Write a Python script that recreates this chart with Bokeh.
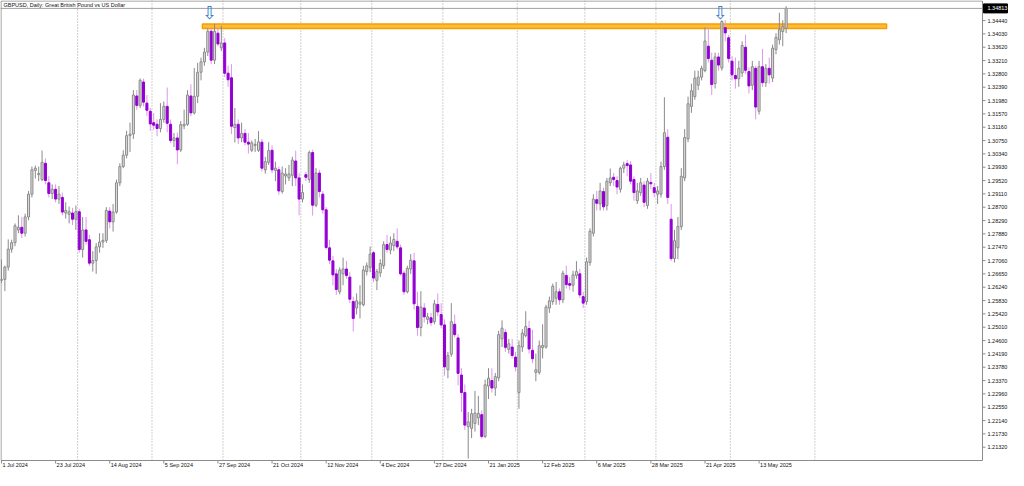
from bokeh.plotting import figure
from bokeh.embed import file_html
from bokeh.resources import INLINE
from bokeh.core.properties import value

# ---------------- data (GBPUSD daily, 1 Jul 2024 - 23 May 2025) ----------------
opens = [
    # Jul 2024
    1.2645, 1.2648, 1.2686, 1.2741, 1.2761, 1.2800, 1.2808, 1.2790, 1.2840, 1.2910, 1.2983, 1.2970,
    1.2955, 1.3005, 1.2945, 1.2912, 1.2925, 1.2895, 1.2900, 1.2852, 1.2848, 1.2852, 1.2833,
    # Aug
    1.2856, 1.2740, 1.2800, 1.2770, 1.2698, 1.2706, 1.2748, 1.2763, 1.2768, 1.2858, 1.2825, 1.2855,
    1.2945, 1.2995, 1.3030, 1.3090, 1.3095, 1.3212, 1.3183, 1.3255, 1.3190, 1.3165,
    # Sep
    1.3130, 1.3125, 1.3112, 1.3140, 1.3180, 1.3125, 1.3075, 1.3083, 1.3046, 1.3120, 1.3125, 1.3212,
    1.3160, 1.3211, 1.3285, 1.3317, 1.3347, 1.3411, 1.3322, 1.3405, 1.3360,
    # Oct
    1.3375, 1.3282, 1.3268, 1.3115, 1.3125, 1.3083, 1.3097, 1.3070, 1.3045, 1.3060, 1.3045, 1.3070,
    1.2985, 1.3008, 1.3045, 1.2983, 1.2985, 1.2918, 1.2966, 1.2960, 1.2968, 1.3012, 1.2960,
    # Nov
    1.2895, 1.2970, 1.2955, 1.3038, 1.2876, 1.2975, 1.2910, 1.2862, 1.2745, 1.2705, 1.2665, 1.2610,
    1.2665, 1.2680, 1.2655, 1.2580, 1.2560, 1.2572, 1.2570, 1.2672, 1.2685,
    # Dec
    1.2730, 1.2645, 1.2668, 1.2690, 1.2755, 1.2738, 1.2752, 1.2765, 1.2745, 1.2667, 1.2610, 1.2680,
    1.2705, 1.2565, 1.2500, 1.2560, 1.2525, 1.2530, 1.2518, 1.2571, 1.2540,
    # Jan 2025
    1.2508, 1.2370, 1.2418, 1.2510, 1.2468, 1.2354, 1.2300, 1.2195, 1.2190, 1.2205, 1.2222, 1.2232,
    1.2165, 1.2320, 1.2337, 1.2314, 1.2345, 1.2465, 1.2485, 1.2433, 1.2440, 1.2409,
    # Feb
    1.2300, 1.2440, 1.2475, 1.2497, 1.2430, 1.2362, 1.2362, 1.2438, 1.2440, 1.2560, 1.2580, 1.2590,
    1.2610, 1.2585, 1.2660, 1.2635, 1.2630, 1.2660, 1.2665, 1.2595,
    # Mar
    1.2580, 1.2700, 1.2790, 1.2893, 1.2880, 1.2918, 1.2875, 1.2945, 1.2962, 1.2952, 1.2925, 1.2990,
    1.3004, 1.3000, 1.2955, 1.2890, 1.2915, 1.2938, 1.2875, 1.2946, 1.2930,
    # Apr
    1.2910, 1.2910, 1.2995, 1.3085, 1.2833, 1.2712, 1.2745, 1.2810, 1.2960, 1.3080, 1.3180, 1.3210,
    1.3245, 1.3270, 1.3290, 1.3365, 1.3322, 1.3250, 1.3332, 1.3298, 1.3422, 1.3391,
    # May
    1.3319, 1.3275, 1.3265, 1.3283, 1.3362, 1.3287, 1.3245, 1.3297, 1.3165, 1.3302, 1.3253, 1.3297,
    1.3267, 1.3355, 1.3385, 1.3410, 1.3420,
]
highs = [
    1.2709, 1.2690, 1.2771, 1.2770, 1.2820, 1.2845, 1.2840, 1.2850, 1.2920, 1.2995, 1.2998, 1.2995,
    1.3044, 1.3020, 1.2965, 1.2940, 1.2940, 1.2935, 1.2915, 1.2885, 1.2872, 1.2868, 1.2875,
    1.2865, 1.2840, 1.2840, 1.2785, 1.2735, 1.2760, 1.2790, 1.2790, 1.2870, 1.2870, 1.2880, 1.2955,
    1.3005, 1.3045, 1.3105, 1.3130, 1.3230, 1.3230, 1.3266, 1.3265, 1.3215, 1.3175,
    1.3160, 1.3140, 1.3190, 1.3195, 1.3238, 1.3140, 1.3098, 1.3100, 1.3135, 1.3170, 1.3230, 1.3248,
    1.3298, 1.3314, 1.3330, 1.3360, 1.3420, 1.3418, 1.3434, 1.3420, 1.3428,
    1.3390, 1.3305, 1.3310, 1.3175, 1.3140, 1.3130, 1.3110, 1.3098, 1.3075, 1.3080, 1.3104, 1.3080,
    1.3025, 1.3070, 1.3060, 1.3010, 1.2995, 1.2995, 1.2990, 1.3000, 1.3025, 1.3044, 1.2975,
    1.2940, 1.2978, 1.3044, 1.3047, 1.2990, 1.2985, 1.2920, 1.2870, 1.2770, 1.2720, 1.2680, 1.2685,
    1.2715, 1.2705, 1.2670, 1.2595, 1.2605, 1.2630, 1.2690, 1.2700, 1.2749,
    1.2735, 1.2680, 1.2710, 1.2765, 1.2785, 1.2780, 1.2790, 1.2805, 1.2755, 1.2675, 1.2690, 1.2726,
    1.2730, 1.2610, 1.2612, 1.2575, 1.2545, 1.2545, 1.2585, 1.2605, 1.2575,
    1.2525, 1.2425, 1.2575, 1.2540, 1.2480, 1.2375, 1.2325, 1.2240, 1.2250, 1.2305, 1.2290, 1.2245,
    1.2340, 1.2375, 1.2375, 1.2360, 1.2490, 1.2522, 1.2495, 1.2465, 1.2465, 1.2425,
    1.2460, 1.2495, 1.2550, 1.2520, 1.2493, 1.2420, 1.2460, 1.2510, 1.2570, 1.2595, 1.2635, 1.2640,
    1.2620, 1.2675, 1.2690, 1.2655, 1.2675, 1.2704, 1.2680, 1.2610,
    1.2715, 1.2805, 1.2910, 1.2920, 1.2945, 1.2930, 1.2960, 1.2989, 1.2975, 1.2965, 1.2995, 1.3010,
    1.3015, 1.3012, 1.2965, 1.2945, 1.2960, 1.2950, 1.2960, 1.2975, 1.2945,
    1.2935, 1.3010, 1.3208, 1.3110, 1.2880, 1.2800, 1.2840, 1.2990, 1.3110, 1.3210, 1.3250, 1.3290,
    1.3290, 1.3305, 1.3423, 1.3423, 1.3345, 1.3345, 1.3345, 1.3445, 1.3445, 1.3400,
    1.3335, 1.3330, 1.3320, 1.3380, 1.3400, 1.3300, 1.3320, 1.3305, 1.3320, 1.3357, 1.3310, 1.3330,
    1.3370, 1.3405, 1.3468, 1.3445, 1.3488,
]
lows = [
    1.2637, 1.2612, 1.2675, 1.2730, 1.2750, 1.2790, 1.2775, 1.2780, 1.2830, 1.2900, 1.2958, 1.2950,
    1.2950, 1.2940, 1.2900, 1.2895, 1.2885, 1.2880, 1.2845, 1.2835, 1.2820, 1.2815, 1.2800,
    1.2730, 1.2715, 1.2755, 1.2690, 1.2672, 1.2665, 1.2730, 1.2745, 1.2760, 1.2805, 1.2795, 1.2850,
    1.2935, 1.2990, 1.3020, 1.3040, 1.3080, 1.3170, 1.3175, 1.3180, 1.3150, 1.3105,
    1.3108, 1.3088, 1.3100, 1.3130, 1.3100, 1.3068, 1.3055, 1.3002, 1.3040, 1.3110, 1.3120, 1.3150,
    1.3155, 1.3190, 1.3260, 1.3305, 1.3335, 1.3310, 1.3310, 1.3365, 1.3350,
    1.3270, 1.3240, 1.3095, 1.3069, 1.3064, 1.3070, 1.3060, 1.3035, 1.3040, 1.3040, 1.3040, 1.2980,
    1.2973, 1.3000, 1.2975, 1.2950, 1.2908, 1.2912, 1.2940, 1.2950, 1.2935, 1.2935, 1.2845,
    1.2885, 1.2950, 1.2945, 1.2844, 1.2870, 1.2900, 1.2850, 1.2740, 1.2695, 1.2630, 1.2600, 1.2602,
    1.2630, 1.2650, 1.2575, 1.2488, 1.2540, 1.2528, 1.2565, 1.2660, 1.2670,
    1.2640, 1.2615, 1.2655, 1.2680, 1.2730, 1.2725, 1.2735, 1.2740, 1.2660, 1.2600, 1.2605, 1.2665,
    1.2555, 1.2475, 1.2473, 1.2515, 1.2510, 1.2505, 1.2510, 1.2535, 1.2498,
    1.2352, 1.2344, 1.2410, 1.2470, 1.2322, 1.2240, 1.2185, 1.2097, 1.2160, 1.2180, 1.2200, 1.2158,
    1.2160, 1.2280, 1.2300, 1.2290, 1.2335, 1.2440, 1.2425, 1.2420, 1.2405, 1.2365,
    1.2250, 1.2425, 1.2470, 1.2420, 1.2390, 1.2335, 1.2355, 1.2405, 1.2435, 1.2545, 1.2570, 1.2570,
    1.2570, 1.2575, 1.2620, 1.2615, 1.2610, 1.2650, 1.2590, 1.2560,
    1.2570, 1.2690, 1.2780, 1.2860, 1.2860, 1.2860, 1.2860, 1.2935, 1.2935, 1.2910, 1.2915, 1.2975,
    1.2965, 1.2940, 1.2890, 1.2880, 1.2905, 1.2870, 1.2865, 1.2925, 1.2900,
    1.2880, 1.2900, 1.2985, 1.2880, 1.2705, 1.2700, 1.2710, 1.2800, 1.2950, 1.3070, 1.3160, 1.3200,
    1.3230, 1.3260, 1.3285, 1.3315, 1.3215, 1.3235, 1.3290, 1.3290, 1.3380, 1.3315,
    1.3260, 1.3235, 1.3240, 1.3270, 1.3280, 1.3220, 1.3230, 1.3140, 1.3155, 1.3240, 1.3240, 1.3250,
    1.3255, 1.3340, 1.3370, 1.3365, 1.3405,
]
closes = [
    1.2648, 1.2686, 1.2741, 1.2761, 1.2813, 1.2808, 1.2790, 1.2840, 1.2910, 1.2985, 1.2990, 1.2974,
    1.3008, 1.2952, 1.2912, 1.2925, 1.2895, 1.2910, 1.2855, 1.2860, 1.2856, 1.2833, 1.2856,
    1.2740, 1.2800, 1.2765, 1.2698, 1.2706, 1.2748, 1.2763, 1.2768, 1.2860, 1.2825, 1.2855, 1.2945,
    1.2995, 1.3030, 1.3090, 1.3095, 1.3215, 1.3183, 1.3260, 1.3193, 1.3168, 1.3126,
    1.3122, 1.3112, 1.3140, 1.3180, 1.3128, 1.3075, 1.3083, 1.3046, 1.3124, 1.3125, 1.3215, 1.3160,
    1.3211, 1.3285, 1.3317, 1.3347, 1.3411, 1.3322, 1.3411, 1.3372, 1.3375,
    1.3282, 1.3262, 1.3119, 1.3125, 1.3083, 1.3097, 1.3070, 1.3064, 1.3068, 1.3063, 1.3071, 1.2990,
    1.3010, 1.3044, 1.2985, 1.2990, 1.2920, 1.2975, 1.2972, 1.2972, 1.3015, 1.2960, 1.2895,
    1.2915, 1.2962, 1.3038, 1.2876, 1.2975, 1.2918, 1.2862, 1.2746, 1.2707, 1.2662, 1.2617, 1.2677,
    1.2680, 1.2660, 1.2587, 1.2528, 1.2582, 1.2578, 1.2677, 1.2690, 1.2726,
    1.2652, 1.2672, 1.2697, 1.2755, 1.2740, 1.2760, 1.2771, 1.2748, 1.2665, 1.2610, 1.2682, 1.2707,
    1.2573, 1.2500, 1.2563, 1.2533, 1.2533, 1.2515, 1.2573, 1.2548, 1.2508,
    1.2379, 1.2414, 1.2518, 1.2478, 1.2359, 1.2300, 1.2200, 1.2210, 1.2235, 1.2237, 1.2236, 1.2165,
    1.2324, 1.2344, 1.2314, 1.2349, 1.2478, 1.2498, 1.2439, 1.2450, 1.2414, 1.2379,
    1.2444, 1.2483, 1.2503, 1.2434, 1.2404, 1.2370, 1.2444, 1.2445, 1.2563, 1.2582, 1.2627, 1.2610,
    1.2585, 1.2667, 1.2632, 1.2630, 1.2662, 1.2672, 1.2600, 1.2575,
    1.2702, 1.2796, 1.2895, 1.2882, 1.2920, 1.2871, 1.2950, 1.2960, 1.2955, 1.2932, 1.2990, 1.3000,
    1.2998, 1.2950, 1.2915, 1.2920, 1.2945, 1.2885, 1.2950, 1.2942, 1.2915,
    1.2920, 1.2995, 1.3099, 1.2900, 1.2712, 1.2767, 1.2811, 1.2965, 1.3084, 1.3188, 1.3228, 1.3267,
    1.3270, 1.3297, 1.3381, 1.3327, 1.3247, 1.3332, 1.3307, 1.3441, 1.3406, 1.3327,
    1.3277, 1.3265, 1.3297, 1.3367, 1.3291, 1.3243, 1.3302, 1.3178, 1.3302, 1.3253, 1.3297, 1.3277,
    1.3359, 1.3392, 1.3416, 1.3425, 1.34813,
]

date_labels = ["1 Jul 2024", "23 Jul 2024", "14 Aug 2024", "5 Sep 2024", "27 Sep 2024",
               "21 Oct 2024", "12 Nov 2024", "4 Dec 2024", "27 Dec 2024", "21 Jan 2025",
               "12 Feb 2025", "6 Mar 2025", "28 Mar 2025", "21 Apr 2025", "13 May 2025"]
date_label_bars = [0, 16, 32, 48, 64, 80, 96, 112, 128, 144, 160, 176, 192, 208, 224]
month_grid_bars = [22.5, 44.5, 65.5, 88.5, 109.5, 130.5, 152.5, 172.5, 193.5, 215.5, 240.5]
price_ticks = [1.21320, 1.21730, 1.22140, 1.22550, 1.22960, 1.23370, 1.23780, 1.24190,
               1.24600, 1.25010, 1.25420, 1.25830, 1.26240, 1.26650, 1.27060, 1.27470,
               1.27880, 1.28290, 1.28700, 1.29110, 1.29520, 1.29930, 1.30340, 1.30750,
               1.31160, 1.31570, 1.31980, 1.32390, 1.32800, 1.33210, 1.33620, 1.34030,
               1.34440]
zone_bars = [59.4, 261.7]
zone_prices = [1.34193, 1.34333]
arrow_bars = [61.6, 212.6]
arrow_prices = [1.34672, 1.34702]
title_text = "GBPUSD, Daily:  Great British Pound vs US Dollar"

# ---------------- geometry of the chart window ----------------
W, H = 1008, 470                 # figure size (px)
CHART_W, CHART_H = 982, 460      # chart area inside the figure (px)
CX0, CX1 = -0.29, 290.06         # bars visible in the chart area
CY0, CY1 = 1.20911, 1.35056      # prices visible in the chart area
PPX = CHART_W / (CX1 - CX0)      # px per bar
PPY = CHART_H / (CY1 - CY0)      # px per price unit
FONT = "Liberation Sans"
FS = "5.5px"
TXT = "#111111"
FRAME = "#8c8c8c"

p = figure(width=W, height=H,
           x_range=(CX0, CX0 + W / PPX), y_range=(CY1 - H / PPY, CY1),
           output_backend="svg", toolbar_location=None, title=None,
           x_axis_location=None, y_axis_location=None,
           min_border=0, min_border_left=0, min_border_right=0,
           min_border_top=0, min_border_bottom=0,
           background_fill_color="white", border_fill_color="white",
           outline_line_color=None)
p.xgrid.visible = False
p.ygrid.visible = False

# month separators (dotted)
p.segment(x0=month_grid_bars, x1=month_grid_bars,
          y0=[CY0] * len(month_grid_bars), y1=[CY1] * len(month_grid_bars),
          line_color="#a0a0a0", line_dash="1 2", line_width=1)

# orange resistance zone
p.quad(left=[zone_bars[0]], right=[zone_bars[1]], bottom=[zone_prices[0]], top=[zone_prices[1]],
       fill_color="#ffbb3a", line_color="#f5a000", line_width=1.5)

# candles
idx = list(range(len(closes)))
up = [i for i in idx if closes[i] >= opens[i]]
dn = [i for i in idx if closes[i] < opens[i]]


def cols(ids):
    return dict(x=ids,
                high=[highs[i] for i in ids], low=[lows[i] for i in ids],
                top=[max(opens[i], closes[i]) for i in ids],
                bottom=[min(opens[i], closes[i]) for i in ids])


u, d = cols(up), cols(dn)
p.segment(x0=u["x"], y0=u["low"], x1=u["x"], y1=u["high"], line_color="#8a8a8a", line_width=1)
p.segment(x0=d["x"], y0=d["low"], x1=d["x"], y1=d["high"], line_color="#dc96f0", line_width=1)
p.vbar(x=u["x"], width=0.6, top=u["top"], bottom=u["bottom"],
       fill_color="#dcdcdc", line_color="#8a8a8a", line_width=1)
p.vbar(x=d["x"], width=0.6, top=d["top"], bottom=d["bottom"],
       fill_color="#9400d3", line_color="#9400d3", line_width=1)

# bid line
last = closes[-1]
p.segment(x0=[CX0], x1=[CX1], y0=[last], y1=[last], line_color="#a0a0a0", line_width=1)

# chart window border
p.quad(left=[CX0 + 0.5 / PPX], right=[CX1], bottom=[CY0], top=[CY1 - 0.5 / PPY],
       fill_color=None, line_color=FRAME, line_width=1)

# price scale (right)
n = len(price_ticks)
p.segment(x0=[CX1] * n, x1=[CX1 + 3 / PPX] * n, y0=price_ticks, y1=price_ticks,
          line_color=FRAME, line_width=1)
p.text(x=[CX1] * n, y=price_ticks, text=["%.5f" % t for t in price_ticks], x_offset=5,
       text_font=value(FONT), text_font_size=value(FS), text_color=TXT,
       text_align="left", text_baseline="middle")

# current price box
p.quad(left=[CX1 + 1 / PPX], right=[CX1 + 25 / PPX],
       bottom=[last - 4.5 / PPY], top=[last + 4.5 / PPY],
       fill_color="black", line_color="black")
p.text(x=[CX1], y=[last], text=["%.5f" % last], x_offset=5,
       text_font=value(FONT), text_font_size=value(FS), text_color="white",
       text_align="left", text_baseline="middle")

# time scale (bottom)
m = len(date_label_bars)
p.segment(x0=date_label_bars, x1=date_label_bars, y0=[CY0] * m, y1=[CY0 - 3 / PPY] * m,
          line_color=FRAME, line_width=1)
p.text(x=date_label_bars, y=[CY0 - 1.5 / PPY] * m, text=date_labels, x_offset=1,
       text_font=value(FONT), text_font_size=value(FS), text_color=TXT,
       text_align="left", text_baseline="top")

# arrows
p.text(x=arrow_bars, y=arrow_prices, text=["\u21e9", "\u21e9"],
       text_font=value("DejaVu Sans"), text_font_size=value("18px"), text_color="#3d7fcf",
       text_align="center", text_baseline="middle")

# chart title
p.text(x=[CX0], y=[CY1 - 1.5 / PPY], text=[title_text], x_offset=3,
       text_font=value(FONT), text_font_size=value(FS), text_color=TXT,
       text_align="left", text_baseline="top")

open("out.html", "w").write(file_html(p, INLINE))
